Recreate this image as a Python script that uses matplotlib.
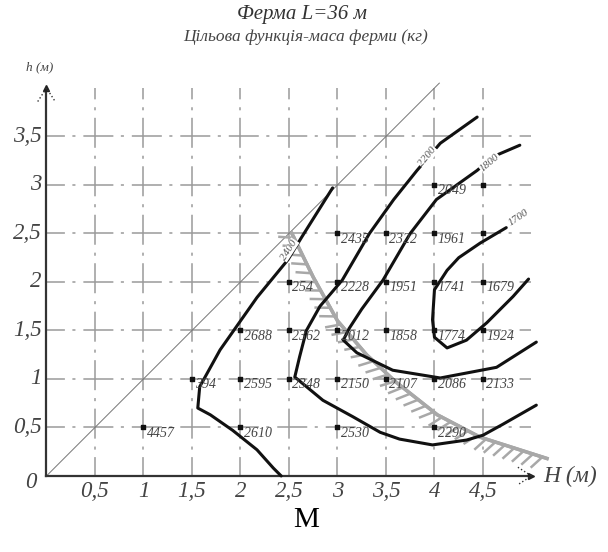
import matplotlib
matplotlib.use("Agg")
import matplotlib.pyplot as plt
import matplotlib.patheffects as pe

plt.rcParams['lines.scale_dashes'] = False
SERIF = ['Liberation Serif', 'DejaVu Serif']

# grid values
x_ticks = [0.5, 1, 1.5, 2, 2.5, 3, 3.5, 4, 4.5]
x_tick_labels = ["0,5", "1", "1,5", "2", "2,5", "3", "3,5", "4", "4,5"]
y_ticks = [0.5, 1, 1.5, 2, 2.5, 3, 3.5]
y_tick_labels = ["0,5", "1", "1,5", "2", "2,5", "3", "3,5"]

# computed points (H, h, mass)
pt_H = [1, 2, 3, 4,
        1.5, 2, 2.5, 3, 3.5, 4, 4.5,
        2, 2.5, 3, 3.5, 4, 4.5,
        2.5, 3, 3.5, 4, 4.5,
        3, 3.5, 4, 4.5,
        4, 4.5]
pt_h = [0.5, 0.5, 0.5, 0.5,
        1, 1, 1, 1, 1, 1, 1,
        1.5, 1.5, 1.5, 1.5, 1.5, 1.5,
        2, 2, 2, 2, 2,
        2.5, 2.5, 2.5, 2.5,
        3, 3]
pt_mass = ["4457", "2610", "2530", "2290",
           "394", "2595", "2348", "2150", "2107", "2086", "2133",
           "2688", "2362", "2012", "1858", "1774", "1924",
           "254", "2228", "1951", "1741", "1679",
           "2435", "2322", "1961", "",
           "2049", ""]

# iso-mass curves
c2400_H = [2.42, 2.34, 2.17, 1.92, 1.69, 1.56, 1.58, 1.79, 2.17, 2.49, 2.63, 2.95]
c2400_h = [0.0, 0.08, 0.27, 0.47, 0.63, 0.70, 0.92, 1.30, 1.84, 2.23, 2.46, 2.97]
c2200_H = [5.05, 4.7, 4.5, 4.33, 3.98, 3.64, 3.44, 3.16, 2.85, 2.56, 2.61, 2.68, 2.82,
           3.05, 3.33, 3.58, 3.82, 4.06, 4.44]
c2200_h = [0.73, 0.53, 0.42, 0.37, 0.32, 0.38, 0.45, 0.61, 0.78, 1.02, 1.23, 1.50, 1.75,
           2.02, 2.50, 2.85, 3.15, 3.43, 3.70]
c1800_H = [5.05, 4.64, 4.06, 3.57, 3.2, 3.06, 3.12, 3.25, 3.47, 3.75, 4.02, 4.44, 4.6, 4.88]
c1800_h = [1.38, 1.12, 1.01, 1.09, 1.27, 1.40, 1.52, 1.72, 2.02, 2.50, 2.85, 3.15, 3.29, 3.41]
c1700_H = [4.74, 4.47, 4.25, 4.13, 4.0, 3.98, 4.0, 4.13, 4.33, 4.54, 4.81, 4.97]
c1700_h = [2.56, 2.40, 2.25, 2.12, 1.92, 1.61, 1.43, 1.32, 1.40, 1.58, 1.85, 2.03]

curve_labels = ["2400", "2200", "1800", "1700"]
label_H = [2.50, 3.93, 4.57, 4.87]
label_h = [2.33, 3.29, 3.23, 2.66]
label_rot = [57, 50, 40, 34]

# constraint boundary
bound_H = [2.53, 2.75, 3.0, 3.3, 3.6, 4.03, 4.47, 5.16]
bound_h = [2.5, 2.05, 1.6, 1.25, 0.97, 0.63, 0.40, 0.18]

fig = plt.figure(figsize=(6.08, 5.52), dpi=100)
ax = fig.add_axes([0, 0, 1, 1])
ax.set_xlim(-0.479, 5.789)
ax.set_ylim(-0.784, 4.907)
ax.axis('off')

grid_style = dict(color='#9a9a9a', lw=1.1, linestyle=(8, (21.6, 5.4, 2.2, 5.7)), zorder=1)
for x in x_ticks:
    ax.plot([x, x], [0, 4.0], **grid_style)
for y in y_ticks:
    ax.plot([0, 5.0], [y, y], **grid_style)

# diagonal h = H
ax.plot([0, 4.05], [0, 4.05], color='#777777', lw=0.7, zorder=2)

# axes with arrows
ax.plot([0, 4.98], [0, 0], color='#333333', lw=1.6, zorder=3)
ax.plot([0, 0], [0, 3.98], color='#333333', lw=1.6, zorder=3)
ax.plot([5.0], [0], marker='>', color='#222222', ms=5, zorder=4)
ax.plot([0], [4.0], marker='^', color='#222222', ms=5, zorder=4)
ax.plot([4.86, 5.0, 4.86], [0.09, 0, -0.09], color='#333333', lw=1, ls=':', zorder=4)
ax.plot([-0.09, 0, 0.09], [3.86, 4.0, 3.86], color='#333333', lw=1, ls=':', zorder=4)

# boundary with hatching
ax.plot(bound_H, bound_h, color='#a8a8a8', lw=2.5, zorder=5,
        path_effects=[pe.withTickedStroke(angle=-120, spacing=7, length=1.5,
                                          linewidth=1.8, foreground='#a8a8a8'),
                      pe.Normal()])

# curves
for cH, ch in [(c2400_H, c2400_h), (c2200_H, c2200_h), (c1800_H, c1800_h), (c1700_H, c1700_h)]:
    ax.plot(cH, ch, color='#111111', lw=2.2, solid_capstyle='round', zorder=6)

for t, x, y, r in zip(curve_labels, label_H, label_h, label_rot):
    ax.text(x, y, t, rotation=r, ha='center', va='center', fontsize=8,
            family=SERIF, style='italic', color='#555555', zorder=7,
            bbox=dict(facecolor='white', edgecolor='none', pad=0.3))

# computed points
ax.scatter(pt_H, pt_h, s=8, marker='s', color='#111111', zorder=8)
for x, y, t in zip(pt_H, pt_h, pt_mass):
    ax.text(x + 0.035, y - 0.06, t, ha='left', va='center', fontsize=10,
            family=SERIF, style='italic', color='#444444', zorder=8)

# tick labels
for x, t in zip(x_ticks, x_tick_labels):
    ax.text(x, -0.16, t, ha='center', va='center', fontsize=16.5,
            family=SERIF, style='italic', color='#444444')
for y, t in zip(y_ticks, y_tick_labels):
    ax.text(-0.05, y, t, ha='right', va='center', fontsize=16.5,
            family=SERIF, style='italic', color='#444444')
ax.text(-0.16, -0.07, "0", ha='center', va='center', fontsize=16.5,
        family=SERIF, style='italic', color='#444444')

ax.text(5.12, 0.0, "H (м)", ha='left', va='center', fontsize=17,
        family=SERIF, style='italic', color='#444444')
ax.text(-0.07, 4.21, "h (м)", ha='center', va='center', fontsize=9.5,
        family=SERIF, style='italic', color='#444444')

ax.text(2.634, 4.753, "Ферма L=36 м", ha='center', va='center', fontsize=15,
        family=SERIF, style='italic', color='#333333')
ax.text(2.675, 4.53, "Цільова функція-маса ферми (кг)", ha='center', va='center',
        fontsize=12.5, family=SERIF, style='italic', color='#444444')

ax.text(2.675, -0.45, "M", ha='center', va='center', fontsize=21,
        family=SERIF, color='black')

fig.savefig("out.png", dpi=100)
